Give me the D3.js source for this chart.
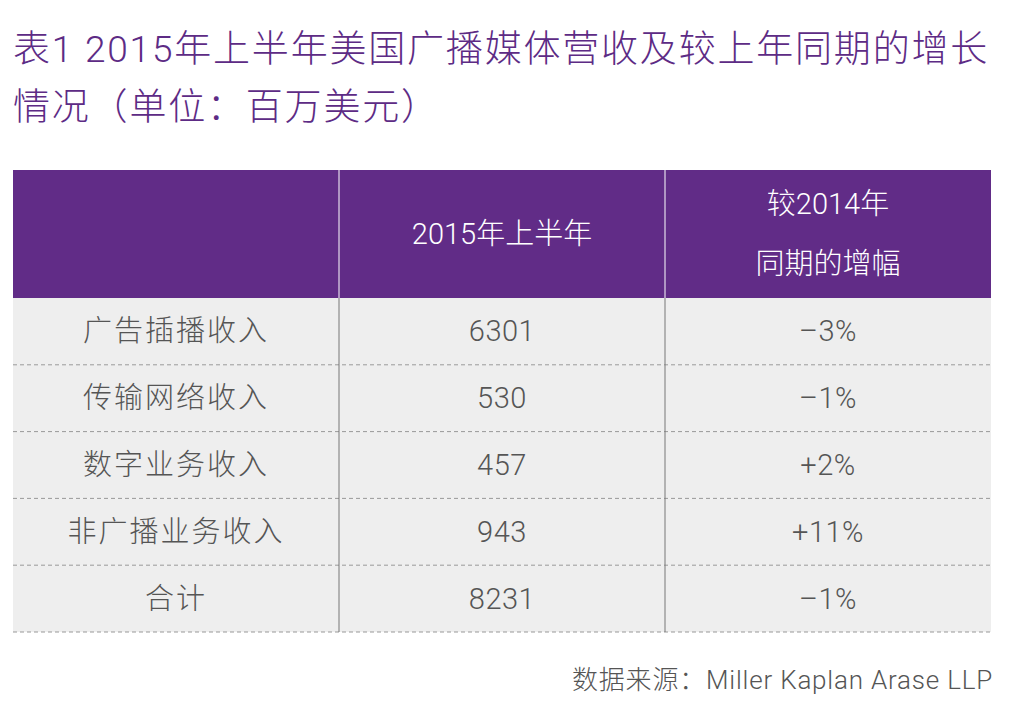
<!DOCTYPE html>
<html>
<head>
<meta charset="utf-8">
<script src="https://cdn.jsdelivr.net/npm/d3@7"></script>
<style>
  body { margin: 0; background: #fff; }
  svg text { font-family: Roboto, "Noto Sans CJK SC", sans-serif; font-weight: 300; }
</style>
</head>
<body>
<script>
const titleLines = ['表1 2015年上半年美国广播媒体营收及较上年同期的增长', '情况（单位：百万美元）']
const columns = ['', '2015年上半年', '较2014年\n同期的增幅']
const categories = ['广告插播收入', '传输网络收入', '数字业务收入', '非广播业务收入', '合计']
const revenue = [6301, 530, 457, 943, 8231]
const growth = ['–3%', '–1%', '+2%', '+11%', '–1%']
const source = '数据来源：Miller Kaplan Arase LLP'

const width = 1032
const height = 721
const purple = '#612c87'

const svg = d3.select('body')
  .append('svg')
  .attr('width', width)
  .attr('height', height)

// title
svg.append('g').selectAll('text')
  .data(titleLines)
  .enter()
  .append('text')
  .attr('x', 13)
  .attr('y', (d, i) => 62 + i * 58)
  .attr('fill', '#5d2b85')
  .style('font-size', '37px')
  .style('letter-spacing', '1.8px')
  .text(d => d)

const x = d3.scaleBand()
  .domain(d3.range(columns.length))
  .range([13, 991])

const y = d3.scaleBand()
  .domain(categories)
  .range([298, 632])

const rows = categories.map((c, i) => [c, revenue[i], growth[i]])

// header
svg.append('rect')
  .attr('x', x.range()[0])
  .attr('y', 170)
  .attr('width', x.range()[1] - x.range()[0])
  .attr('height', 298 - 170)
  .attr('fill', purple)

const head = svg.append('g')
columns.forEach((c, j) => {
  const lines = c.split('\n')
  head.append('text')
    .attr('text-anchor', 'middle')
    .attr('fill', '#fff')
    .style('font-size', '29px')
    .selectAll('tspan')
    .data(lines)
    .enter()
    .append('tspan')
    .attr('x', x(j) + x.bandwidth() / 2)
    .attr('y', (d, k) => 234 + (k - (lines.length - 1) / 2) * 60)
    .attr('dominant-baseline', 'central')
    .text(d => d)
})

// body rows
const body = svg.append('g')
body.selectAll('rect')
  .data(rows)
  .enter()
  .append('rect')
  .attr('x', x.range()[0])
  .attr('y', d => y(d[0]))
  .attr('width', x.range()[1] - x.range()[0])
  .attr('height', y.bandwidth())
  .attr('fill', '#eeeeee')

rows.forEach(r => {
  body.append('g').selectAll('text')
    .data(r)
    .enter()
    .append('text')
    .attr('x', (d, j) => x(j) + x.bandwidth() / 2)
    .attr('y', y(r[0]) + y.bandwidth() / 2)
    .attr('text-anchor', 'middle')
    .attr('dominant-baseline', 'central')
    .attr('fill', '#555')
    .style('font-size', '29px')
    .style('letter-spacing', (d, j) => j == 0 ? '2px' : '0.5px')
    .text(d => d)
})

// dashed row separators
body.selectAll('line.sep')
  .data(categories)
  .enter()
  .append('line')
  .attr('class', 'sep')
  .attr('x1', x.range()[0])
  .attr('x2', x.range()[1])
  .attr('y1', d => y(d) + y.bandwidth())
  .attr('y2', d => y(d) + y.bandwidth())
  .style('stroke', '#999')
  .style('stroke-width', 1)
  .style('stroke-dasharray', '4,3')

// column dividers
d3.range(1, columns.length).forEach(j => {
  svg.append('line')
    .attr('x1', x(j)).attr('x2', x(j))
    .attr('y1', 170).attr('y2', 298)
    .style('stroke', '#fff')
    .style('stroke-width', 1)
  svg.append('line')
    .attr('x1', x(j)).attr('x2', x(j))
    .attr('y1', 298).attr('y2', 632)
    .style('stroke', '#777')
    .style('stroke-width', 1)
})

// source
svg.append('text')
  .attr('x', 993)
  .attr('y', 689)
  .attr('text-anchor', 'end')
  .attr('fill', '#555')
  .style('font-size', '26px')
  .style('letter-spacing', '0.8px')
  .text(source)
</script>
</body>
</html>
